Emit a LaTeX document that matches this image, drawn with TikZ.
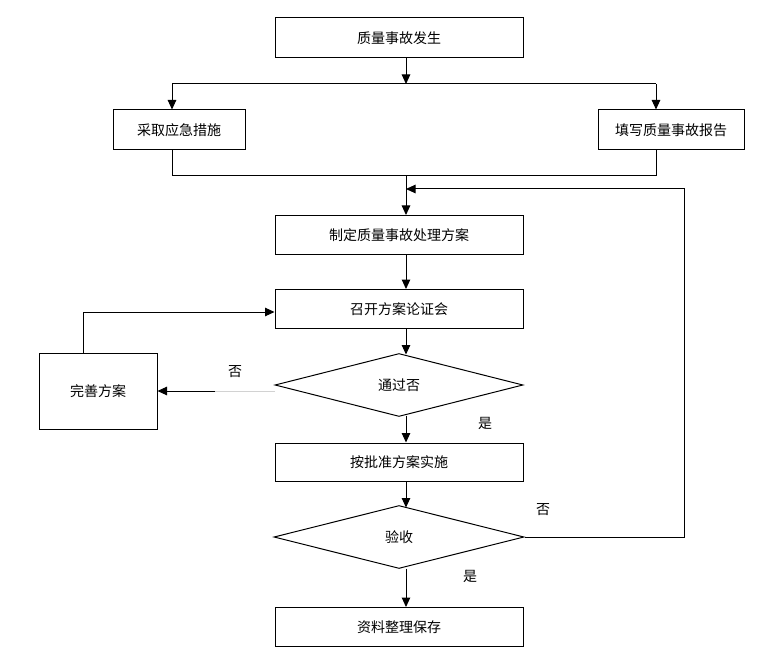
\documentclass[tikz,border=0pt]{standalone}
\usepackage{fontspec}
\setmainfont{Noto Sans CJK SC}
\usetikzlibrary{arrows.meta,shapes.geometric}
\begin{document}
\begin{tikzpicture}[x=1pt,y=-1pt,
  every node/.style={font=\fontsize{14}{16}\selectfont},
  box/.style={draw, line width=1pt, rectangle, inner sep=0pt},
  dia/.style={draw, line width=1pt, diamond, inner sep=0pt},
  arr/.style={line width=1pt, -{Triangle[length=9.5pt,width=8.5pt]}},
  ln/.style={line width=1pt},
  lbl/.style={inner sep=0pt}]
\useasboundingbox (0,0) rectangle (760,655);
% nodes
\node[box, minimum width=248pt, minimum height=40pt] (n1) at (399,38) {质量事故发生};
\node[box, minimum width=132pt, minimum height=40pt] (n2) at (179,130) {采取应急措施};
\node[box, minimum width=146pt, minimum height=40pt] (n3) at (671,130) {填写质量事故报告};
\node[box, minimum width=248pt, minimum height=39pt] (n4) at (399,235) {制定质量事故处理方案};
\node[box, minimum width=248pt, minimum height=39pt] (n5) at (399,309) {召开方案论证会};
\node[dia, minimum width=248pt, minimum height=63pt] (d1) at (399,385) {通过否};
\node[box, minimum width=118pt, minimum height=76pt] (wan) at (98,391) {完善方案};
\node[box, minimum width=248pt, minimum height=38pt] (n6) at (399,462) {按批准方案实施};
\node[dia, minimum width=250pt, minimum height=63pt] (d2) at (399,537) {验收};
\node[box, minimum width=248pt, minimum height=39pt] (n7) at (399,627) {资料整理保存};
% labels
\node[lbl] (l1) at (235,372) {否};
\node[lbl] (l2) at (485,423) {是};
\node[lbl] (l3) at (543,510) {否};
\node[lbl] (l4) at (470,576) {是};
% coordinates
\coordinate (ax) at (406,0);
\coordinate (j1) at (406,84);
\coordinate (cL) at (172,84);
\coordinate (cR) at (656,84);
\coordinate (bL) at (172,176);
\coordinate (bR) at (656,176);
\coordinate (j2) at (406,176);
\coordinate (fb1) at (684,537);
\coordinate (fb2) at (684,189);
\coordinate (fb3) at (406,189);
\coordinate (g1) at (275,391);
\coordinate (g2) at (215,391);
\coordinate (lp) at (83,312);
% connectors
\draw[arr] (n1.south -| ax) -- (j1);
\draw[ln] (cL) -- (cR);
\draw[arr] (cL) -- (cL |- n2.north);
\draw[arr] (cR) -- (cR |- n3.north);
\draw[ln] (n2.south -| bL) -- (bL) -- (bR) -- (n3.south -| bR);
\draw[arr] (j2) -- (n4.north -| ax);
\draw[arr] (d2.east) -- (fb1) -- (fb2) -- (fb3);
\draw[arr] (n4.south -| ax) -- (n5.north -| ax);
\draw[arr] (n5.south -| ax) -- (406,354.5);
\draw[ln, draw=gray!35] (g1) -- (g2);
\draw[arr] (g2) -- (wan.east |- g2);
\draw[arr] (wan.north -| lp) -- (lp) -- (n5.west |- lp);
\draw[arr] (406,415.5) -- (n6.north -| ax);
\draw[arr] (n6.south -| ax) -- (406,507.5);
\draw[arr] (406,568.5) -- (n7.north -| ax);
\end{tikzpicture}
\end{document}
